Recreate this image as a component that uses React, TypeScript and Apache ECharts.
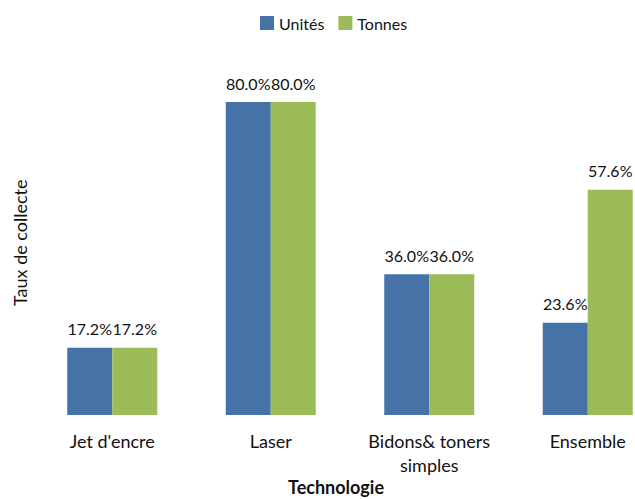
import React, { useEffect, useRef } from "react";
import * as echarts from "echarts";

const categories = ["Jet d'encre", "Laser", "Bidons& toners\nsimples", "Ensemble"];
const unites = [17.2, 80.0, 36.0, 23.6];
const tonnes = [17.2, 80.0, 36.0, 57.6];
const seriesNames = ["Unités", "Tonnes"];

export default function App() {
  const ref = useRef<HTMLDivElement>(null);
  useEffect(() => {
    const chart = echarts.init(ref.current!, null, { renderer: "svg" });
    const font = "Lato, 'Open Sans', sans-serif";
    const label = {
      show: true,
      position: "top" as const,
      distance: 11,
      formatter: (p: any) => p.value.toFixed(1) + "%",
      color: "#111",
      fontSize: 16,
      fontFamily: font,
    };
    chart.setOption({
      animation: false,
      backgroundColor: "#fff",
      textStyle: { fontFamily: font },
      legend: {
        top: 10,
        left: 255,
        itemWidth: 14,
        itemHeight: 14,
        itemGap: 14,
        icon: "rect",
        textStyle: { fontSize: 16, color: "#111", fontFamily: font },
        data: seriesNames,
      },
      grid: { left: 33, right: 0, top: 102, height: 313, containLabel: false },
      xAxis: {
        type: "category",
        data: categories,
        axisLine: { show: false },
        axisTick: { show: false },
        axisLabel: { color: "#111", fontSize: 18, fontFamily: font, margin: 14, lineHeight: 24 },
      },
      yAxis: {
        type: "value",
        min: 0,
        max: 80,
        show: false,
        splitLine: { show: false },
      },
      series: [
        {
          name: seriesNames[0],
          type: "bar",
          data: unites,
          barWidth: 45,
          barGap: "0%",
          itemStyle: { color: "#4572A7" },
          label,
        },
        {
          name: seriesNames[1],
          type: "bar",
          data: tonnes,
          barWidth: 45,
          itemStyle: { color: "#9BBB59" },
          label,
        },
      ],
      graphic: [
        {
          type: "text",
          left: 288,
          top: 478,
          style: { text: "Technologie", fill: "#111", font: "bold 18px " + font },
        },
        {
          type: "text",
          x: 11,
          y: 306,
          rotation: Math.PI / 2,
          style: { text: "Taux de collecte", fill: "#111", font: "18px " + font },
        },
      ],
    });
    return () => chart.dispose();
  }, []);
  return (
    <div style={{ position: "absolute", left: 0, top: 0, width: 635, height: 499, overflow: "hidden" }}>
      <div ref={ref} style={{ width: 667, height: 499 }} />
    </div>
  );
}
